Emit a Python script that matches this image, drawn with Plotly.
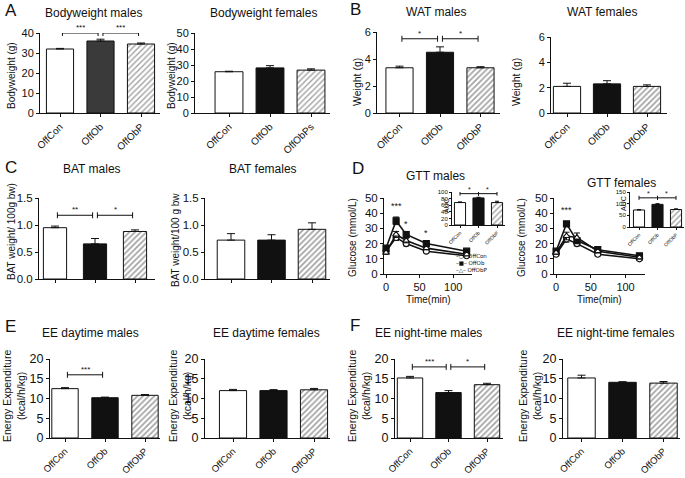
import plotly.graph_objects as go

W, H = 685, 478
FONT = "Liberation Sans, Arial, sans-serif"
INK = "#111111"

# ---------------- data ----------------
groups = ["OffCon", "OffOb", "OffObP"]
groups_ps = ["OffCon", "OffOb", "OffObPs"]

bw_males = [32.0, 36.0, 34.5]
bw_males_err = [0.3, 0.9, 0.5]
bw_females = [25.8, 28.2, 26.8]
bw_females_err = [0.3, 1.4, 0.8]

wat_males = [3.35, 4.5, 3.35]
wat_males_err = [0.12, 0.4, 0.08]
wat_females = [2.1, 2.3, 2.1]
wat_females_err = [0.25, 0.25, 0.12]

bat_males = [0.95, 0.65, 0.88]
bat_males_err = [0.03, 0.1, 0.03]
bat_females = [0.72, 0.72, 0.92]
bat_females_err = [0.12, 0.1, 0.12]

time_min = [0, 15, 30, 60, 120]
gtt_m_con = [15, 24, 20, 15, 12]
gtt_m_ob = [17, 35, 26, 20, 15]
gtt_m_obp = [14, 26, 22, 17, 13]
gtt_m_con_err = [1, 2, 1.5, 1, 1]
gtt_m_ob_err = [1, 2.5, 2, 1.5, 1]
gtt_m_obp_err = [1, 2, 1.5, 1, 1]
gtt_f_con = [13, 23, 20, 13, 10]
gtt_f_ob = [15, 33, 22, 16, 12]
gtt_f_obp = [14, 25, 24, 15, 11]
gtt_f_con_err = [1, 2, 1.5, 1, 1]
gtt_f_ob_err = [1, 1.5, 1.5, 1, 1]
gtt_f_obp_err = [1, 2.5, 3, 1, 1]

auc_males = [68, 82, 68]
auc_males_err = [2, 2, 4]
auc_females = [73, 97, 75]
auc_females_err = [2, 3, 3]

ee_day_males = [12.5, 10.2, 10.8]
ee_day_males_err = [0.25, 0.15, 0.2]
ee_day_females = [12.0, 12.0, 12.2]
ee_day_females_err = [0.3, 0.25, 0.35]
ee_night_males = [15.2, 11.5, 13.5]
ee_night_males_err = [0.4, 0.5, 0.35]
ee_night_females = [15.2, 14.1, 13.9]
ee_night_females_err = [0.7, 0.15, 0.4]

# significance: (group a, group b, level, label)
sig_bw_males = [(0, 1, 40, "***"), (1, 2, 40, "***")]
sig_wat_males = [(0, 1, 5.5, "*"), (1, 2, 5.5, "*")]
sig_bat_males = [(0, 1, 1.18, "**"), (1, 2, 1.18, "*")]
sig_auc_males = [(0, 1, 95, "*"), (1, 2, 95, "*")]
sig_auc_females = [(0, 1, 125, "*"), (1, 2, 125, "*")]
sig_ee_day_males = [(0, 1, 16, "***")]
sig_ee_night_males = [(0, 1, 18, "***"), (1, 2, 18, "*")]
gtt_m_stars = [(15, 45, "***"), (30, 33, "*"), (60, 27, "*")]
gtt_f_stars = [(15, 42, "***")]
legend_names = ["OffCon", "OffOb", "OffObP"]
legend_glyphs = ["○", "■", "△"]

# ---------------- figure ----------------
fig = go.Figure()
LAY = {}
ANN = []
SHP = []


def names(i):
    s = "" if i == 1 else str(i)
    return "x" + s, "y" + s, "xaxis" + s, "yaxis" + s


def base_axis(size):
    return dict(showline=True, linecolor=INK, linewidth=1, ticks="outside",
                ticklen=3, tickwidth=1, tickcolor=INK, showgrid=False,
                zeroline=False, automargin=False,
                tickfont=dict(family=FONT, size=size, color=INK))


def label(text, cx, cy, size=12, xanchor="center", family=FONT, angle=0):
    ANN.append(dict(xref="paper", yref="paper", x=cx / W, y=1 - cy / H, text=text,
                    showarrow=False, xanchor=xanchor, yanchor="middle",
                    textangle=angle, font=dict(family=family, size=size, color=INK)))


def bar_panel(i, cats, vals, errs, geo, yrange, dtick, fills, hatch,
              wfrac, tfont=11, xfont=10, show_x=True, tickformat=None, capw=4,
              solidity=0.42):
    xr, yr, xk, yk = names(i)
    left, c0, sp, right, top, bottom = geo
    fig.add_trace(go.Bar(
        x=cats, y=vals, xaxis=xr, yaxis=yr, width=wfrac, showlegend=False,
        marker=dict(color=fills, line=dict(color=INK, width=1),
                    pattern=dict(shape=["", "", "/"], fgcolor=hatch, size=4,
                                 solidity=solidity, fillmode="overlay")),
        error_y=dict(type="data", array=errs, arrayminus=[0] * len(errs),
                     symmetric=False, color=INK, thickness=1, width=capw),
        cliponaxis=False))
    n = len(cats)
    xa = base_axis(xfont)
    xa.update(domain=[left / W, right / W], anchor=yr, type="category",
              range=[-(c0 - left) / sp, (n - 1) + (right - (c0 + (n - 1) * sp)) / sp],
              tickangle=-45, showticklabels=show_x)
    ya = base_axis(tfont)
    ya.update(domain=[1 - bottom / H, 1 - top / H], anchor=xr, range=yrange, dtick=dtick)
    if tickformat:
        ya["tickformat"] = tickformat
    LAY[xk] = xa
    LAY[yk] = ya


def brackets(i, sigs, geo, yrange, fsize=8, inset=0.06, tick_px=3):
    xr, yr, _, _ = names(i)
    top, bottom = geo[4], geo[5]
    h = tick_px * (yrange[1] - yrange[0]) / (bottom - top)
    for a, b, lvl, lab in sigs:
        x0, x1 = a + inset, b - inset
        SHP.append(dict(type="line", xref=xr, yref=yr, x0=x0, x1=x1, y0=lvl, y1=lvl,
                        line=dict(color=INK, width=1)))
        for xx in (x0, x1):
            SHP.append(dict(type="line", xref=xr, yref=yr, x0=xx, x1=xx,
                            y0=lvl - h, y1=lvl + h, line=dict(color=INK, width=1)))
        ANN.append(dict(xref=xr, yref=yr, x=(x0 + x1) / 2, y=lvl, text=lab,
                        showarrow=False, yanchor="bottom", yshift=-1,
                        font=dict(family=FONT, size=fsize, color=INK)))


# Row A
g = (40, 60, 40.5, 160, 33, 113)
bar_panel(1, groups, bw_males, bw_males_err, g, [0, 40], 10,
          ["white", "#3a3a3a", "white"], "#777777", 0.67, solidity=0.35)
brackets(1, sig_bw_males, g, [0, 40])
g = (195, 229, 41, 330, 33, 113)
bar_panel(2, groups_ps, bw_females, bw_females_err, g, [0, 50], 10,
          ["white", INK, "white"], "#888888", 0.68, solidity=0.35)

# Row B
g = (377, 399.5, 40.5, 500, 32, 113)
bar_panel(3, groups, wat_males, wat_males_err, g, [0, 6], 2,
          ["white", INK, "white"], INK, 0.67)
brackets(3, sig_wat_males, g, [0, 6])
g = (551, 567, 40, 667, 37, 113)
bar_panel(4, groups, wat_females, wat_females_err, g, [0, 6], 2,
          ["white", INK, "white"], INK, 0.68)

# Row C
g = (39, 55, 40, 155, 198, 279)
bar_panel(5, groups, bat_males, bat_males_err, g, [0, 1.5], 0.5,
          ["white", INK, "white"], INK, 0.58, tfont=11.5, show_x=False, tickformat=".1f")
brackets(5, sig_bat_males, g, [0, 1.5])
g = (205, 231, 40.5, 330, 198, 279)
bar_panel(6, groups, bat_females, bat_females_err, g, [0, 1.5], 0.5,
          ["white", INK, "white"], INK, 0.68, tfont=11.5, show_x=False, tickformat=".1f")

# Row E / F
g = (50, 65, 40, 160, 359, 438)
bar_panel(7, groups, ee_day_males, ee_day_males_err, g, [0, 20], 5,
          ["white", INK, "white"], INK, 0.66, tfont=12.5, xfont=9.5)
brackets(7, sig_ee_day_males, g, [0, 20])
g = (205, 233, 40.5, 330, 359, 438)
bar_panel(8, groups, ee_day_females, ee_day_females_err, g, [0, 20], 5,
          ["white", INK, "white"], INK, 0.67, tfont=12.5, xfont=9.5)
g = (395, 410, 38.5, 503, 359, 438)
bar_panel(9, groups, ee_night_males, ee_night_males_err, g, [0, 20], 5,
          ["white", INK, "white"], INK, 0.66, tfont=12.5, xfont=9.5)
brackets(9, sig_ee_night_males, g, [0, 20])
g = (563, 581.5, 41, 680, 359, 438)
bar_panel(10, groups, ee_night_females, ee_night_females_err, g, [0, 20], 5,
          ["white", INK, "white"], INK, 0.67, tfont=12.5, xfont=9.5)


# Row D: GTT
def gtt_panel(i, series, geo, stars):
    xr, yr, xk, yk = names(i)
    left, right, top, bottom = geo
    for nm, vals, errs, sym, fill in series:
        fig.add_trace(go.Scatter(
            x=time_min, y=vals, xaxis=xr, yaxis=yr, name=nm, mode="lines+markers",
            line=dict(color=INK, width=1.6),
            marker=dict(symbol=sym, size=6, color=fill, line=dict(color=INK, width=1.2)),
            error_y=dict(type="data", array=errs, color=INK, thickness=1, width=3),
            showlegend=False, cliponaxis=False))
    xa = base_axis(11)
    xa.update(domain=[left / W, right / W], anchor=yr, range=[-3, 128], dtick=50)
    ya = base_axis(11.5)
    ya.update(domain=[1 - bottom / H, 1 - top / H], anchor=xr, range=[0, 50], dtick=10)
    LAY[xk] = xa
    LAY[yk] = ya
    label("Time(min)", (left + right) / 2, bottom + 25, size=10)
    for t, lvl, lab in stars:
        ANN.append(dict(xref=xr, yref=yr, x=t, y=lvl, text=lab, showarrow=False,
                        font=dict(family=FONT, size=9, color=INK)))


gtt_panel(11, [("OffCon", gtt_m_con, gtt_m_con_err, "circle", "white"),
               ("OffOb", gtt_m_ob, gtt_m_ob_err, "square", INK),
               ("OffObP", gtt_m_obp, gtt_m_obp_err, "triangle-up", "white")],
          (384, 472, 198, 274), gtt_m_stars)
gtt_panel(12, [("OffCon", gtt_f_con, gtt_f_con_err, "circle", "white"),
               ("OffOb", gtt_f_ob, gtt_f_ob_err, "square", INK),
               ("OffObP", gtt_f_obp, gtt_f_obp_err, "triangle-up", "white")],
          (554, 645, 198, 274), gtt_f_stars)

# compact text legend inside the male GTT panel
for k, (nm, gl) in enumerate(zip(legend_names, legend_glyphs)):
    label("\u2013" + gl + "\u2013 " + nm, 454, 256 + 7 * k, size=5.5,
          xanchor="left", family="DejaVu Sans")

# AUC insets
g = (452, 460, 18.5, 505, 192, 225)
bar_panel(13, groups, auc_males, auc_males_err, g, [0, 100], 20,
          ["white", INK, "white"], "#999999", 0.6, tfont=6, xfont=5, capw=2, solidity=0.35)
brackets(13, sig_auc_males, g, [0, 100], fsize=7, inset=0.0, tick_px=2)
g = (630, 639, 18.5, 684, 192, 227)
bar_panel(14, groups, auc_females, auc_females_err, g, [0, 150], 50,
          ["white", INK, "white"], "#999999", 0.6, tfont=6, xfont=5, capw=2, solidity=0.35)
brackets(14, sig_auc_females, g, [0, 150], fsize=7, inset=0.0, tick_px=2)
for k in ("xaxis13", "xaxis14", "yaxis13", "yaxis14"):
    LAY[k]["ticklen"] = 2

# y-axis titles
label("Bodyweight (g)", 12, 76, size=10, angle=-90)
label("Bodyweight (g)", 172, 76, size=10, angle=-90)
label("Weight (g)", 357, 82, size=10.5, angle=-90)
label("Weight (g)", 516, 82, size=10.5, angle=-90)
label("BAT weight/ 100g bw)", 12, 232, size=10, angle=-90)
label("BAT weight/100 g bw", 175, 240, size=10, angle=-90)
label("Glucose (mmol/L)", 352, 238, size=10, angle=-90)
label("Glucose (mmol/L)", 521, 238, size=10, angle=-90)
label("Energy Expenditure<br>(kcal/h/kg)", 14, 396, size=10.5, angle=-90)
label("Energy Expenditure<br>(kcal/h/kg)", 180, 396, size=10.5, angle=-90)
label("Energy Expenditure<br>(kcal/h/kg)", 359, 396, size=10.5, angle=-90)
label("Energy Expenditure<br>(kcal/h/kg)", 530, 396, size=10.5, angle=-90)
label("AUC", 446, 206, size=7, angle=-90)
label("AUC", 623, 204, size=7, angle=-90)

# panel titles and letters
label("Bodyweight males", 93, 13)
label("Bodyweight females", 263, 13)
label("WAT males", 436, 12)
label("WAT females", 602, 12)
label("BAT males", 92, 169)
label("BAT females", 263, 169)
label("GTT males", 435, 176)
label("GTT females", 621, 183)
label("EE daytime males", 90, 333)
label("EE daytime females", 266, 333)
label("EE night-time males", 428, 333)
label("EE night-time females", 615, 333)
label("A", 3, 10, size=17, xanchor="left")
label("B", 348, 9, size=17, xanchor="left")
label("C", 3, 167, size=17, xanchor="left")
label("D", 350, 168, size=17, xanchor="left")
label("E", 3, 326, size=17, xanchor="left")
label("F", 348, 325, size=17, xanchor="left")

fig.update_layout(
    width=W, height=H, margin=dict(l=0, r=0, t=0, b=0, autoexpand=False),
    paper_bgcolor="white", plot_bgcolor="rgba(0,0,0,0)",
    font=dict(family=FONT, color=INK), showlegend=False,
    annotations=ANN, shapes=SHP,
    **LAY)

fig.write_html("out.html", config={"displayModeBar": False},
               post_script="document.body.style.margin='0px';"
                           "document.body.style.overflow='hidden';")
